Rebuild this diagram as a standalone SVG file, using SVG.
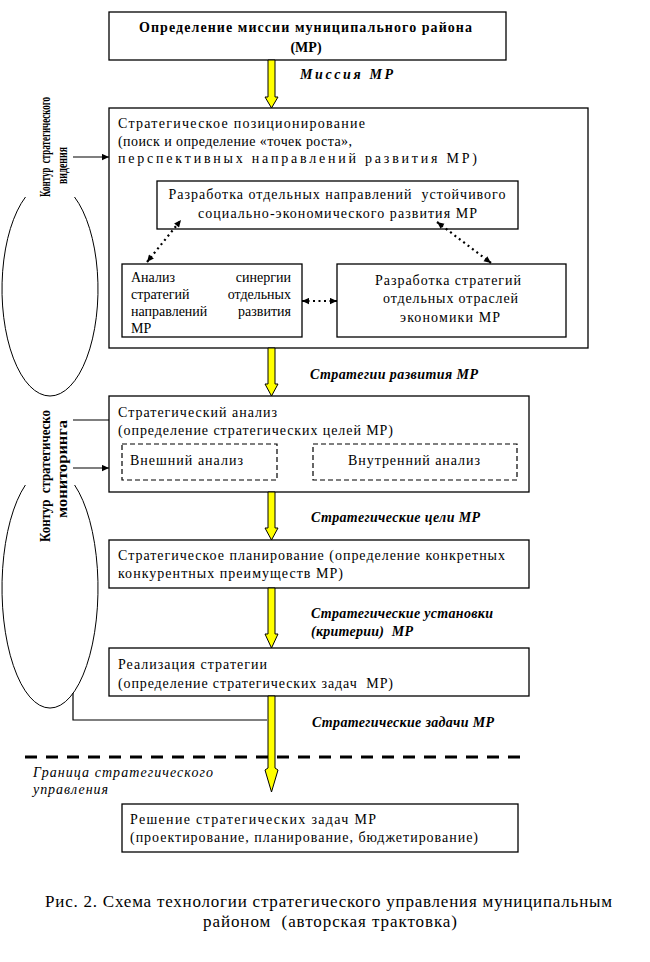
<svg xmlns="http://www.w3.org/2000/svg" width="650" height="962" viewBox="0 0 650 962">
<defs>
<style>
.bg{fill:#fff}
.box{fill:#fff;stroke:#000;stroke-width:1.3}
.dbox{fill:none;stroke:#000;stroke-width:1.2;stroke-dasharray:5 3}
.t{font-family:"Liberation Serif","Times New Roman",serif;font-size:14px;fill:#000}
.b{font-weight:bold}
.bi{font-weight:bold;font-style:italic}
.i{font-style:italic}
.cap{font-size:17px}
.rot{font-size:14.5px;font-weight:bold}
.ya{fill:#ffff00;stroke:#000;stroke-width:1}
.ln{fill:none;stroke:#000;stroke-width:1.2}
.dot{fill:none;stroke:#000;stroke-width:2.2;stroke-dasharray:2 3.5}
.ell{fill:none;stroke:#000;stroke-width:1}
.bnd{fill:none;stroke:#000;stroke-width:3;stroke-dasharray:12 9}
</style>
<marker id="ah" viewBox="0 0 10 10" refX="10" refY="5" markerWidth="8" markerHeight="7" markerUnits="userSpaceOnUse" orient="auto-start-reverse">
<path d="M0,0.5 L10,5 L0,9.5 z" fill="#000"/>
</marker>
</defs>
<rect class="bg" x="0" y="0" width="650" height="962"/>

<g id="mission">
<rect class="box" x="109" y="12" width="397" height="48"/>
<text class="t b" x="305.5" y="32" text-anchor="middle" textLength="333" lengthAdjust="spacing">Определение миссии муниципального района</text>
<text class="t b" x="306" y="52" text-anchor="middle">(МР)</text>
</g>

<g id="positioning">
<rect class="box" x="109" y="108" width="479" height="240"/>
<text class="t" x="118" y="128" textLength="247" lengthAdjust="spacing">Стратегическое позиционирование</text>
<text class="t" x="118" y="146" textLength="234" lengthAdjust="spacing">(поиск и определение «точек роста»,</text>
<text class="t" x="118" y="163" textLength="359" lengthAdjust="spacing">перспективных направлений развития МР)</text>
</g>

<g id="directions">
<rect class="box" x="157" y="181" width="361" height="48"/>
<text class="t" x="337" y="199" text-anchor="middle" textLength="337" lengthAdjust="spacing" xml:space="preserve">Разработка отдельных направлений  устойчивого</text>
<text class="t" x="337.5" y="218" text-anchor="middle" textLength="279" lengthAdjust="spacing">социально-экономического развития МР</text>
</g>

<g id="synergy">
<rect class="box" x="122" y="264" width="180" height="73"/>
<text class="t" x="131" y="282">Анализ</text>
<text class="t" x="291" y="282" text-anchor="end">синергии</text>
<text class="t" x="131" y="299">стратегий</text>
<text class="t" x="291" y="299" text-anchor="end">отдельных</text>
<text class="t" x="131" y="316">направлений</text>
<text class="t" x="291" y="316" text-anchor="end">развития</text>
<text class="t" x="131" y="333">МР</text>
</g>

<g id="sectors">
<rect class="box" x="337" y="264" width="229" height="73"/>
<text class="t" x="448" y="285" text-anchor="middle" textLength="146" lengthAdjust="spacing">Разработка стратегий</text>
<text class="t" x="450.5" y="303" text-anchor="middle" textLength="135" lengthAdjust="spacing">отдельных отраслей</text>
<text class="t" x="450" y="322" text-anchor="middle" textLength="100" lengthAdjust="spacing">экономики МР</text>
</g>

<g id="analysis">
<rect class="box" x="109" y="396" width="420" height="96"/>
<text class="t" x="118" y="417" textLength="159" lengthAdjust="spacing">Стратегический анализ</text>
<text class="t" x="118" y="435" textLength="275" lengthAdjust="spacing">(определение стратегических целей МР)</text>
</g>

<g id="external">
<rect class="dbox" x="122" y="444" width="155" height="36"/>
<text class="t" x="130" y="465" textLength="113" lengthAdjust="spacing">Внешний анализ</text>
</g>

<g id="internal">
<rect class="dbox" x="313" y="444" width="204" height="36"/>
<text class="t" x="348" y="465" textLength="132" lengthAdjust="spacing">Внутренний анализ</text>
</g>

<g id="planning">
<rect class="box" x="109" y="540" width="420" height="48"/>
<text class="t" x="118" y="560" textLength="387" lengthAdjust="spacing">Стратегическое планирование (определение конкретных</text>
<text class="t" x="118" y="578" textLength="225" lengthAdjust="spacing">конкурентных преимуществ МР)</text>
</g>

<g id="implementation">
<rect class="box" x="109" y="648" width="420" height="48"/>
<text class="t" x="118" y="669" textLength="149" lengthAdjust="spacing">Реализация стратегии</text>
<text class="t" x="118" y="688" textLength="275" lengthAdjust="spacing" xml:space="preserve">(определение стратегических задач  МР)</text>
</g>

<g id="boundary">
<line class="bnd" x1="25" y1="757" x2="528" y2="757"/>
<text class="t i" x="33" y="777" textLength="180" lengthAdjust="spacing">Граница стратегического</text>
<text class="t i" x="33" y="794" textLength="75" lengthAdjust="spacing">управления</text>
</g>

<g id="solution">
<rect class="box" x="122" y="804" width="396" height="48"/>
<text class="t" x="130" y="824" textLength="246" lengthAdjust="spacing">Решение стратегических задач МР</text>
<text class="t" x="130" y="842" textLength="348" lengthAdjust="spacing">(проектирование, планирование, бюджетирование)</text>
</g>

<g id="vision-contour">
<path class="ell" d="M25.5,197 A48,107 0 1 0 74.5,197"/>
<text class="t rot" transform="translate(50,147) rotate(-90)" text-anchor="middle" textLength="100" lengthAdjust="spacingAndGlyphs" xml:space="preserve">Контур  стратегического</text>
<text class="t rot" transform="translate(67,165.5) rotate(-90)" text-anchor="middle" textLength="37" lengthAdjust="spacingAndGlyphs">видения</text>
</g>

<g id="monitoring-contour">
<path class="ell" d="M25.4,485 A48,120 0 1 0 74.6,485"/>
<text class="t rot" transform="translate(50,476) rotate(-90)" text-anchor="middle" textLength="132" lengthAdjust="spacingAndGlyphs" xml:space="preserve">Контур  стратегическо</text>
<text class="t rot" transform="translate(67,469) rotate(-90)" text-anchor="middle" textLength="98" lengthAdjust="spacingAndGlyphs">мониторинга</text>
</g>

<g id="caption">
<text class="t cap" x="328.5" y="907" text-anchor="middle" textLength="567" lengthAdjust="spacing">Рис. 2. Схема технологии стратегического управления муниципальным</text>
<text class="t cap" x="330" y="927" text-anchor="middle" textLength="254" lengthAdjust="spacing" xml:space="preserve">районом  (авторская трактовка)</text>
</g>

<g id="labels">
<text class="t bi" x="300" y="79" textLength="93" lengthAdjust="spacing">Миссия МР</text>
<text class="t bi" x="310" y="379" textLength="168" lengthAdjust="spacing">Стратегии развития МР</text>
<text class="t bi" x="311" y="522" textLength="169" lengthAdjust="spacing">Стратегические цели МР</text>
<text class="t bi" x="311" y="618" textLength="182" lengthAdjust="spacing">Стратегические установки</text>
<text class="t bi" x="311" y="636" textLength="102" lengthAdjust="spacing" xml:space="preserve">(критерии)  МР</text>
<text class="t bi" x="312" y="727" textLength="182" lengthAdjust="spacing">Стратегические задачи МР</text>
</g>

<g id="connectors">
<polygon class="ya" points="268,60 275,60 275,97 278,97 271.5,108 265,97 268,97"/>
<polygon class="ya" points="268,348 275,348 275,384 278,384 271.5,396 265,384 268,384"/>
<polygon class="ya" points="268,492 275,492 275,528 278,528 271.5,540 265,528 268,528"/>
<polygon class="ya" points="268,588 275,588 275,634 278,634 271.5,648 265,634 268,634"/>
<polygon class="ya" points="268,696 275,696 275,768 278,770 271.5,792 265,770 268,768"/>
<line class="ln" x1="73" y1="157" x2="109" y2="157" marker-end="url(#ah)"/>
<line class="ln" x1="73" y1="420" x2="109" y2="420"/>
<line class="ln" x1="73" y1="468" x2="109" y2="468" marker-end="url(#ah)"/>
<polyline class="ln" points="73,693 73,720 267,720"/>
<line class="dot" x1="147" y1="262" x2="181" y2="220" marker-start="url(#ah)" marker-end="url(#ah)"/>
<line class="dot" x1="437" y1="222" x2="491" y2="263" marker-start="url(#ah)" marker-end="url(#ah)"/>
<line class="dot" x1="302" y1="301" x2="337" y2="301" marker-start="url(#ah)" marker-end="url(#ah)"/>
</g>
</svg>
